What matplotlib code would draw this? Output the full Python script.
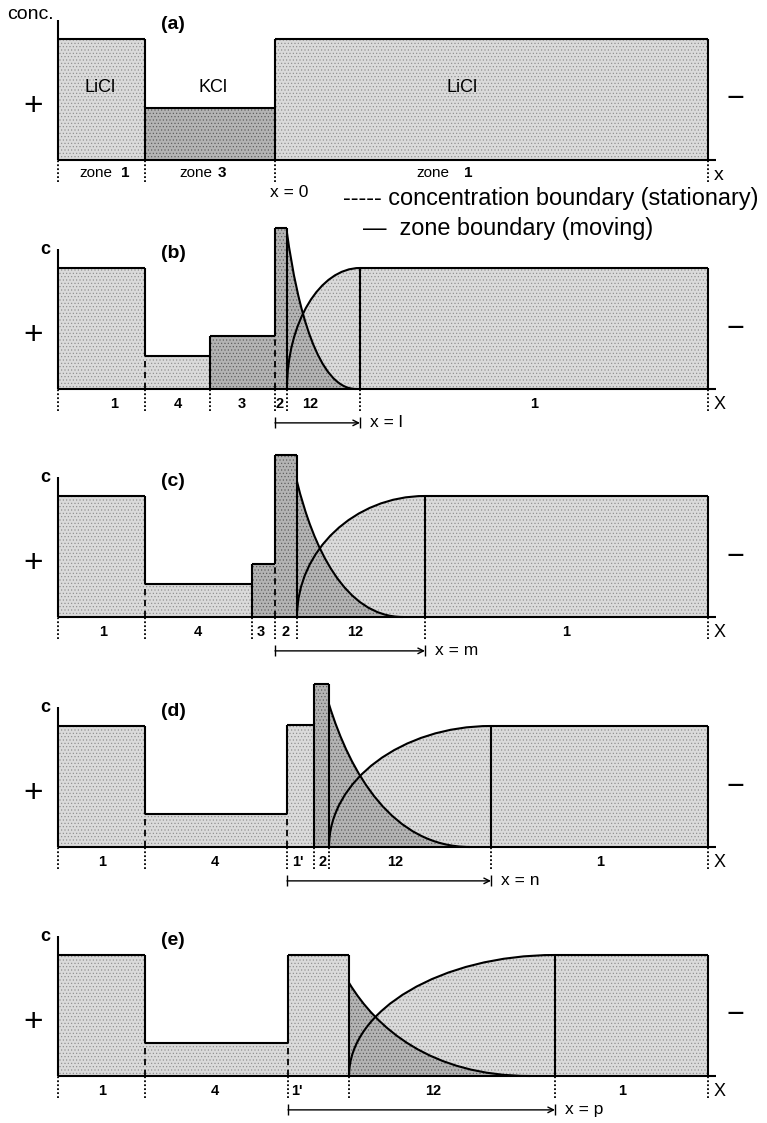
import matplotlib.pyplot as plt
from matplotlib.path import Path
from matplotlib.patches import PathPatch

plt.rcParams['font.family'] = ['Liberation Sans', 'DejaVu Sans']
plt.rcParams['hatch.linewidth'] = 0.45

# concentration of LiCl in zone 1 = 1.0 ; x in drawing units along the tube
# (a) initial state
a_edges = [58, 145, 275, 708]
a_conc = [1.0, 0.43, 1.0]
a_shade = ['L', 'D', 'L']
a_moving = [True, True]
a_words_x = [96, 196, 433]
a_digits = ['1', '3', '1']
a_digits_x = [125, 222, 468]

# (b)
b_edges = [58, 145, 210, 275, 287, 360, 708]
b_conc = [1.0, 0.27, 0.44, 1.33, None, 1.0]
b_shade = ['L', 'L', 'D', 'D', None, 'L']
b_moving = [False, True, False, True, True]
b_labels = ['1', '4', '3', '2', '12', '1']
b_labels_x = [114, 178, 242, 280, 310, 534]
b_decay = [1.29, 356]          # KCl conc at zone-12 start, x where it reaches 0
b_front = [275, 360, 'x = l']

# (c)
c_edges = [58, 145, 252, 275, 297, 425, 708]
c_conc = [1.0, 0.27, 0.44, 1.34, None, 1.0]
c_shade = ['L', 'L', 'D', 'D', None, 'L']
c_moving = [False, True, False, True, True]
c_labels = ['1', '4', '3', '2', '12', '1']
c_labels_x = [103, 198, 261, 286, 355, 566]
c_decay = [1.12, 403]
c_front = [275, 425, 'x = m']

# (d)
d_edges = [58, 145, 287, 314, 329, 491, 708]
d_conc = [1.0, 0.27, 1.01, 1.35, None, 1.0]
d_shade = ['L', 'L', 'L', 'D', None, 'L']
d_moving = [False, False, True, True, True]
d_labels = ['1', '4', "1'", '2', '12', '1']
d_labels_x = [102, 215, 298, 323, 395, 600]
d_decay = [1.18, 470]
d_front = [287, 491, 'x = n']

# (e)
e_edges = [58, 145, 288, 349, 555, 708]
e_conc = [1.0, 0.27, 1.0, None, 1.0]
e_shade = ['L', 'L', 'L', None, 'L']
e_moving = [False, False, True, True]
e_labels = ['1', '4', "1'", '12', '1']
e_labels_x = [102, 215, 297, 433, 622]
e_decay = [0.77, 530]
e_front = [288, 555, 'x = p']

# bezier handles of the two profile curves (fractions of width / height)
rise_handles = [(0.0, 0.55), (0.45, 1.0)]
decay_handles = [(0.15, 0.52), (0.45, 0.0)]

panels = [
    dict(tag='a', edges=a_edges, conc=a_conc, shade=a_shade, moving=a_moving),
    dict(tag='b', edges=b_edges, conc=b_conc, shade=b_shade, moving=b_moving,
         labels=b_labels, labels_x=b_labels_x, decay=b_decay, front=b_front),
    dict(tag='c', edges=c_edges, conc=c_conc, shade=c_shade, moving=c_moving,
         labels=c_labels, labels_x=c_labels_x, decay=c_decay, front=c_front),
    dict(tag='d', edges=d_edges, conc=d_conc, shade=d_shade, moving=d_moving,
         labels=d_labels, labels_x=d_labels_x, decay=d_decay, front=d_front),
    dict(tag='e', edges=e_edges, conc=e_conc, shade=e_shade, moving=e_moving,
         labels=e_labels, labels_x=e_labels_x, decay=e_decay, front=e_front),
]

W, H = 767, 1123
S = 121.0                       # pixels per concentration unit
baselines = [160, 389, 617, 847, 1076]
# stippled greys: (face, dot colour)
LIGHT = ('#dadada', '#8e8e8e')
DARK = ('#b3b3b3', '#5a5a5a')
HATCH = '.....'
LW = 1.5

fig = plt.figure(figsize=(W / 100, H / 100), dpi=100)

for p, base in zip(panels, baselines):
    top_px, bot_px = base - 190, base + 80
    ax = fig.add_axes([0, 1 - bot_px / H, 1, (bot_px - top_px) / H])
    ax.set_xlim(0, W)
    ax.set_ylim(-80 / S, 190 / S)
    ax.axis('off')
    ax.patch.set_alpha(0)

    edges, conc = p['edges'], p['conc']
    n = len(conc)

    def left_top(i):
        return p['decay'][0] if conc[i] is None else conc[i]

    def right_top(i):
        return conc[i + 1] if conc[i] is None else conc[i]

    for i in range(n):
        l, r = edges[i], edges[i + 1]
        if conc[i] is None:
            w, h = r - l, conc[i + 1]
            (u1, v1), (u2, v2) = rise_handles
            rise = [(l, 0), (l + u1 * w, v1 * h), (l + u2 * w, v2 * h), (r, h)]
            ax.add_patch(PathPatch(Path(rise + [(r, 0), (l, 0)],
                                        [1, 4, 4, 4, 2, 79]),
                                   facecolor=LIGHT[0], edgecolor=LIGHT[1],
                                   hatch=HATCH, lw=0))
            h0, xe = p['decay']
            wd = xe - l
            (u1, v1), (u2, v2) = decay_handles
            dec = [(l, h0), (l + u1 * wd, v1 * h0), (l + u2 * wd, v2 * h0), (xe, 0)]
            ax.add_patch(PathPatch(Path(dec + [(l, 0), (l, h0)],
                                        [1, 4, 4, 4, 2, 79]),
                                   facecolor=DARK[0], edgecolor=DARK[1],
                                   hatch=HATCH, lw=0))
            ax.add_patch(PathPatch(Path(rise, [1, 4, 4, 4]), fill=False,
                                   lw=LW, edgecolor='black'))
            ax.add_patch(PathPatch(Path(dec, [1, 4, 4, 4]), fill=False,
                                   lw=LW, edgecolor='black'))
        else:
            face, dots = LIGHT if p['shade'][i] == 'L' else DARK
            ax.bar(l, conc[i], width=r - l, align='edge', linewidth=0,
                   color=face, edgecolor=dots, hatch=HATCH)
            ax.hlines(conc[i], l, r, color='black', lw=LW)

    # boundaries between zones
    for j, mov in enumerate(p['moving']):
        x = edges[j + 1]
        lo, hi = sorted([right_top(j), left_top(j + 1)])
        if mov:
            ax.vlines(x, 0, hi, color='black', lw=LW)
        else:
            ax.vlines(x, lo, hi, color='black', lw=LW)
            ax.vlines(x, 0, lo, color='black', lw=1.3, linestyles=(0, (3.5, 2.5)))

    ax.vlines(edges[-1], 0, conc[-1], color='black', lw=LW)
    ax.vlines(edges[0], 0, 1.16, color='black', lw=LW)
    ax.hlines(0, edges[0], edges[-1] + 8, color='black', lw=LW)
    ax.vlines(edges, -0.18, 0, color='black', lw=1.3, linestyles=(0, (1, 1.2)))

    ax.text(33, 0.44, '+', fontsize=24, ha='center', va='center')
    ax.text(735, 0.5, '\u2212', fontsize=22, ha='center', va='center')
    ax.text(173, 1.12, '(%s)' % p['tag'], fontsize=14, fontweight='bold',
            ha='center', va='center')

    if p['tag'] == 'a':
        ax.text(7, 1.2, 'conc.', fontsize=14, ha='left', va='center')
        ax.text(719, -0.13, 'x', fontsize=14, ha='center', va='center')
        for xw, d, xd in zip(a_words_x, a_digits, a_digits_x):
            ax.text(xw, -0.105, 'zone', fontsize=11, ha='center', va='center')
            ax.text(xd, -0.105, d, fontsize=11, fontweight='bold',
                    ha='center', va='center')
        ax.text(100, 0.6, 'LiCl', fontsize=13, ha='center', va='center')
        ax.text(213, 0.6, 'KCl', fontsize=13, ha='center', va='center')
        ax.text(462, 0.6, 'LiCl', fontsize=13, ha='center', va='center')
        ax.text(270, -0.27, 'x = 0', fontsize=12.5, ha='left', va='center')
        ax.text(343, -0.37, '----- concentration boundary (stationary)',
                fontsize=16.9, ha='left', va='baseline')
        ax.text(363, -0.62, '\u2014  zone boundary (moving)',
                fontsize=16.9, ha='left', va='baseline')
    else:
        ax.text(45, 1.15, 'c', fontsize=13, fontweight='bold',
                ha='center', va='center')
        ax.text(720, -0.13, 'X', fontsize=13, ha='center', va='center')
        for lab, xl in zip(p['labels'], p['labels_x']):
            ax.text(xl, -0.12, lab, fontsize=10.5, fontweight='bold',
                    ha='center', va='center')
        x0, x1, name = p['front']
        ya = -0.28
        ax.annotate('', xy=(x1, ya), xytext=(x0, ya),
                    arrowprops=dict(arrowstyle='->', lw=1.0, color='black',
                                    shrinkA=0, shrinkB=0))
        ax.vlines([x0, x1], ya - 0.045, ya + 0.045, color='black', lw=1.0)
        ax.text(x1 + 10, ya, name, fontsize=12.5, ha='left', va='center')

fig.savefig('out.png', dpi=100)
